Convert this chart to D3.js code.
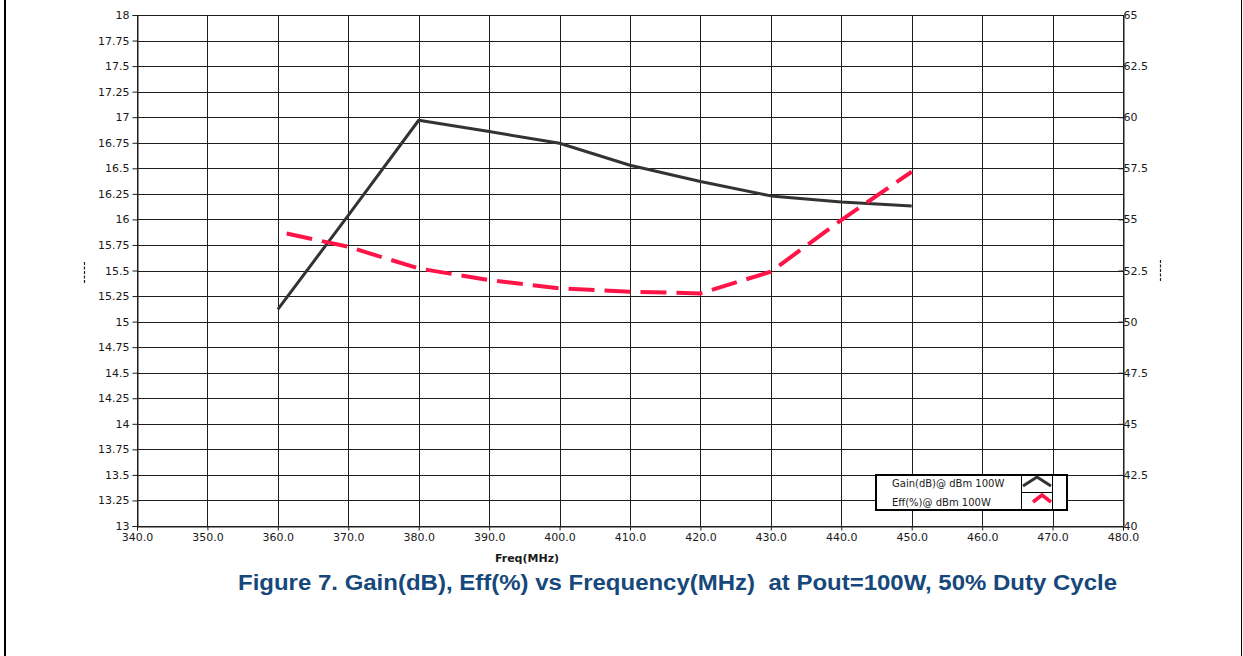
<!DOCTYPE html>
<html>
<head>
<meta charset="utf-8">
<script src="https://cdn.jsdelivr.net/npm/d3@7"></script>
<style>
html,body{margin:0;padding:0;background:#fff;}
svg{display:block;}
</style>
</head>
<body>
<svg id="chart" width="1243" height="656"></svg>
<script>
// ---- data ----
const freqs = [360, 370, 380, 390, 400, 410, 420, 430, 440, 450];
const gainDb = [15.12, 16.04, 16.97, 16.86, 16.745, 16.53, 16.37, 16.23, 16.17, 16.13];
const effPct = [54.4, 53.66, 52.6, 52.03, 51.63, 51.46, 51.38, 52.44, 54.97, 57.33];
const xTicks = [340, 350, 360, 370, 380, 390, 400, 410, 420, 430, 440, 450, 460, 470, 480];
const gainTicks = [13, 13.25, 13.5, 13.75, 14, 14.25, 14.5, 14.75, 15, 15.25, 15.5, 15.75, 16, 16.25, 16.5, 16.75, 17, 17.25, 17.5, 17.75, 18];
const effTicks = [40, 42.5, 45, 47.5, 50, 52.5, 55, 57.5, 60, 62.5, 65];
const legendLabels = ["Gain(dB)@ dBm 100W", "Eff(%)@ dBm 100W"];
const xTitle = "Freq(MHz)";
const chartTitle = "Figure 7. Gain(dB), Eff(%) vs Frequency(MHz)  at Pout=100W, 50% Duty Cycle";

// ---- layout ----
const L = 137, R = 1123, T = 15, B = 526;
const svg = d3.select("#chart");
const x = d3.scaleLinear().domain([340, 480]).range([L, R]);
const yL = d3.scaleLinear().domain([13, 18]).range([B, T]);
const yR = d3.scaleLinear().domain([40, 65]).range([B, T]);
const gridColor = "#1e1e1e";
const font = "'DejaVu Sans', Verdana, sans-serif";

// page borders
svg.append("line").attr("x1", 5).attr("x2", 5).attr("y1", 0).attr("y2", 656)
  .attr("stroke", "#000").attr("stroke-width", 2);
svg.append("line").attr("x1", 1241.5).attr("x2", 1241.5).attr("y1", 0).attr("y2", 656)
  .attr("stroke", "#000").attr("stroke-width", 1);

// grid
const grid = svg.append("g").attr("shape-rendering", "crispEdges");
grid.selectAll("line.h").data(gainTicks).join("line")
  .attr("x1", L).attr("x2", R)
  .attr("y1", d => Math.round(yL(d)) + 0.5).attr("y2", d => Math.round(yL(d)) + 0.5)
  .attr("stroke", gridColor).attr("stroke-width", 1);
grid.selectAll("line.v").data(xTicks).join("line")
  .attr("y1", T).attr("y2", B)
  .attr("x1", d => Math.round(x(d)) + 0.5).attr("x2", d => Math.round(x(d)) + 0.5)
  .attr("stroke", gridColor).attr("stroke-width", 1);

// left axis
const axL = svg.append("g").attr("transform", `translate(${L + 0.5},0)`)
  .call(d3.axisLeft(yL).tickValues(gainTicks).tickSize(5).tickPadding(3).tickFormat(d => String(d)));
axL.select(".domain").attr("stroke", gridColor);
axL.selectAll(".tick line").attr("stroke", gridColor);
axL.selectAll("text").attr("font-family", font).attr("font-size", 11).attr("fill", "#1a1a1a");

// right axis (ticks inward, labels start at axis)
const axR = svg.append("g").attr("transform", `translate(${R + 0.5},0)`)
  .call(d3.axisRight(yR).tickValues(effTicks).tickSizeInner(-5).tickSizeOuter(0).tickPadding(5).tickFormat(d => String(d)));
axR.select(".domain").attr("stroke", gridColor);
axR.selectAll(".tick line").attr("stroke", gridColor);
axR.selectAll("text").attr("font-family", font).attr("font-size", 11).attr("fill", "#1a1a1a").attr("x", 0);

// bottom axis
const axB = svg.append("g").attr("transform", `translate(0,${B + 0.5})`)
  .call(d3.axisBottom(x).tickValues(xTicks).tickSize(4).tickPadding(3).tickFormat(d3.format(".1f")));
axB.select(".domain").attr("stroke", gridColor);
axB.selectAll(".tick line").attr("stroke", gridColor);
axB.selectAll("text").attr("font-family", font).attr("font-size", 11).attr("fill", "#1a1a1a");

// x title
svg.append("text").attr("x", 527).attr("y", 562).attr("text-anchor", "middle")
  .attr("font-family", font).attr("font-size", 11).attr("font-weight", "bold").attr("fill", "#1a1a1a")
  .text(xTitle);

// empty axis-title placeholders (dashed marks)
svg.append("line").attr("x1", 84.5).attr("x2", 84.5).attr("y1", 262).attr("y2", 283)
  .attr("stroke", "#222").attr("stroke-width", 1.2).attr("stroke-dasharray", "3,1.5");
svg.append("line").attr("x1", 1160.5).attr("x2", 1160.5).attr("y1", 260).attr("y2", 281)
  .attr("stroke", "#222").attr("stroke-width", 1.2).attr("stroke-dasharray", "3,1.5");

// series
const gainColor = "#333333", effColor = "#ff1447";
const lineGain = d3.line().x((d, i) => x(freqs[i])).y(d => yL(d));
const lineEff = d3.line().x((d, i) => x(freqs[i])).y(d => yR(d));
svg.append("path").datum(gainDb).attr("d", lineGain)
  .attr("fill", "none").attr("stroke", gainColor).attr("stroke-width", 3).attr("stroke-linejoin", "round");
svg.append("path").datum(effPct).attr("d", lineEff)
  .attr("fill", "none").attr("stroke", effColor).attr("stroke-width", 4)
  .attr("stroke-dasharray", "26,10").attr("stroke-dashoffset", 27);

// legend
const lg = svg.append("g");
lg.append("rect").attr("x", 876).attr("y", 475).attr("width", 191).attr("height", 35)
  .attr("fill", "#fff").attr("stroke", "#000").attr("stroke-width", 2);
lg.append("line").attr("x1", 1021.5).attr("x2", 1021.5).attr("y1", 475).attr("y2", 510).attr("stroke", "#000").attr("stroke-width", 1);
lg.append("line").attr("x1", 1052.5).attr("x2", 1052.5).attr("y1", 475).attr("y2", 510).attr("stroke", "#000").attr("stroke-width", 1);
lg.append("line").attr("x1", 1021).attr("x2", 1053).attr("y1", 492.5).attr("y2", 492.5).attr("stroke", "#000").attr("stroke-width", 1);
lg.selectAll("text.lab").data(legendLabels).join("text")
  .attr("x", 892).attr("y", (d, i) => 487 + i * 19)
  .attr("font-family", font).attr("font-size", 10).attr("fill", "#1a1a1a")
  .text(d => d);
lg.append("path").attr("d", "M1023,486 L1037,477 L1051,486")
  .attr("fill", "none").attr("stroke", gainColor).attr("stroke-width", 3);
lg.append("path").attr("d", "M1033,502 L1042,495 L1051,502")
  .attr("fill", "none").attr("stroke", effColor).attr("stroke-width", 3.5);

// figure title
svg.append("text").attr("x", 238).attr("y", 590)
  .attr("font-family", "'Liberation Sans', Arial, sans-serif").attr("font-weight", "bold")
  .attr("font-size", 21.5).attr("fill", "#17487b")
  .style("white-space", "pre")
  .attr("textLength", 879).attr("lengthAdjust", "spacingAndGlyphs")
  .text(chartTitle);
</script>
</body>
</html>
